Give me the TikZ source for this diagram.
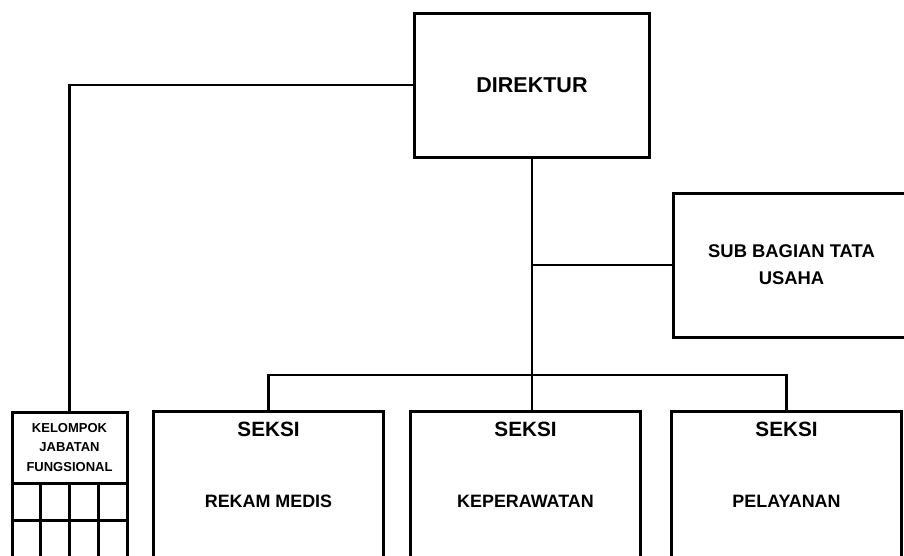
\documentclass[tikz,border=0pt]{standalone}
\usepackage{fontspec}
\setmainfont{Liberation Sans}
\usetikzlibrary{positioning}

\begin{document}
\begin{tikzpicture}[x=1pt,y=-1pt,
  orgbox/.style={draw,line width=3pt,inner sep=0pt,outer sep=0pt},
  link/.style={line width=2.6pt},
  headtext/.style={font=\bfseries\fontsize{20.7}{24}\selectfont,inner sep=0pt},
  unittext/.style={font=\bfseries\fontsize{17.9}{27}\selectfont,align=center,inner sep=0pt}]
  \useasboundingbox (0,0) rectangle (904,555);
  \clip (0,0) rectangle (904,555);
  % Direktur
  \node[orgbox,minimum width=235pt,minimum height=144pt,
    font=\bfseries\fontsize{21.5}{24}\selectfont] (direktur) at (532,85) {DIREKTUR};
  % Sub Bagian Tata Usaha
  \node[orgbox,unittext,font=\bfseries\fontsize{18.4}{27}\selectfont,
    minimum width=237pt,minimum height=144pt] (subbag) at (791.5,265) {SUB BAGIAN TATA\\USAHA};
  % Seksi
  \foreach \name/\x/\unit in {rekam/268.5/REKAM MEDIS,kep/525.5/KEPERAWATAN,pel/786.5/PELAYANAN} {
    \node[orgbox,minimum width=230pt,minimum height=146pt] (\name) at (\x,484) {};
    \node[headtext] (\name-head) at ([yshift=-18pt]\name.north) {SEKSI};
    \node[unittext] (\name-unit) at ([yshift=-90pt]\name.north) {\unit};
  }
  % Kelompok Jabatan Fungsional
  \node[orgbox,minimum width=115pt,minimum height=71pt,align=center,
    font=\bfseries\fontsize{13}{19.5}\selectfont] (kelompok) at (69.5,447.5) {KELOMPOK\\JABATAN\\FUNGSIONAL};
  \draw[orgbox] (kelompok.south west) rectangle ++(115,80);
  \draw[orgbox] (12,520) -- (127,520);
  \foreach \x in {40.75,69.5,98.25} {
    \draw[orgbox] (\x,483) -- (\x,563);
  }
  % Garis komando
  \draw[link] (direktur.west) -| (kelompok.north);
  \draw[link] (direktur.south) -- (direktur.south |- kep.north);
  \draw[link] (direktur.south |- subbag.west) -- (subbag.west);
  \coordinate (bus) at (532,375);
  \draw[link] (rekam.north) |- (bus) -| (pel.north);
\end{tikzpicture}
\end{document}
